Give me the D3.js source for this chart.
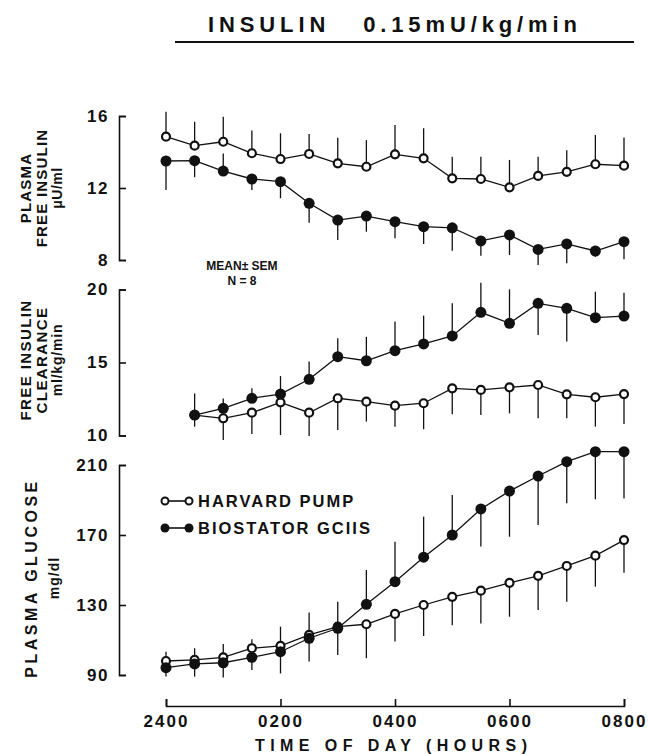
<!DOCTYPE html>
<html>
<head>
<meta charset="utf-8">
<script src="https://cdn.jsdelivr.net/npm/d3@7"></script>
<style>
  html, body { margin: 0; padding: 0; background: #fff; }
  svg text { font-family: "Liberation Sans", Arial, sans-serif; font-weight: bold; fill: #111; }
  .axis path, .axis line { stroke: #111; stroke-width: 1.6; }
</style>
</head>
<body>
<svg id="chart" width="648" height="754"></svg>
<script>
/* valori */
const hours      = [0, 0.5, 1, 1.5, 2, 2.5, 3, 3.5, 4, 4.5, 5, 5.5, 6, 6.5, 7, 7.5, 8];
const hoursClear = hours.slice(1);
const hourTicks  = [0, 2, 4, 6, 8];
const hourLabels = ["2400", "0200", "0400", "0600", "0800"];

const insulinTicks   = [8, 12, 16];
const clearanceTicks = [10, 15, 20];
const glucoseTicks   = [90, 130, 170, 210];

// plasma free insulin (µU/ml)
const insulinPump      = [14.85, 14.35, 14.57, 13.93, 13.61, 13.89, 13.37, 13.18, 13.87, 13.65, 12.54, 12.50, 12.04, 12.67, 12.90, 13.32, 13.24];
const insulinPumpSem   = [1.39, 1.33, 1.39, 1.26, 1.43, 1.11, 1.42, 1.48, 1.63, 1.67, 1.20, 1.24, 1.52, 1.07, 1.20, 1.63, 1.56];
const insulinPumpDir   = [1, 1, 1, 1, 1, 1, 1, 1, 1, 1, 1, 1, 1, 1, 1, 1, 1];
const insulinBio       = [13.50, 13.52, 12.94, 12.50, 12.35, 11.15, 10.22, 10.44, 10.13, 9.85, 9.79, 9.06, 9.39, 8.59, 8.89, 8.50, 9.02];
const insulinBioSem    = [1.61, 0.92, 0.98, 0.61, 0.92, 1.08, 1.11, 0.87, 0.92, 0.96, 1.28, 0.83, 1.11, 0.87, 1.07, 0.32, 0.98];
const insulinBioDir    = [-1, -1, 1, -1, -1, -1, -1, -1, -1, -1, -1, -1, -1, -1, -1, -1, -1];

// free insulin clearance (ml/kg/min)
const clearancePump    = [11.40, 11.18, 11.56, 12.27, 11.56, 12.55, 12.32, 12.04, 12.21, 13.23, 13.12, 13.30, 13.46, 12.82, 12.62, 12.84];
const clearancePumpSem = [0.80, 1.48, 1.46, 2.24, 1.60, 2.17, 1.37, 1.44, 1.78, 1.78, 1.71, 1.78, 2.28, 1.64, 2.01, 2.05];
const clearancePumpDir = [-1, -1, -1, -1, -1, -1, -1, -1, -1, -1, -1, -1, -1, -1, -1, -1];
const clearanceBio     = [11.40, 11.86, 12.55, 12.84, 13.85, 15.40, 15.12, 15.81, 16.27, 16.82, 18.44, 17.68, 19.05, 18.71, 18.07, 18.18];
const clearanceBioSem  = [1.48, 0.68, 0.68, 1.23, 1.21, 1.26, 1.64, 1.99, 1.94, 2.24, 2.03, 2.33, 2.17, 2.28, 1.78, 1.60];
const clearanceBioDir  = [1, 1, 1, 1, 1, 1, 1, 1, 1, 1, 1, 1, -1, -1, 1, 1];

// plasma glucose (mg/dl)
const glucosePump      = [98.0, 98.6, 100.1, 105.3, 106.7, 112.9, 117.6, 119.0, 124.9, 130.0, 134.7, 138.2, 142.7, 146.7, 152.3, 158.2, 167.1];
const glucosePumpSem   = [5.3, 6.7, 7.6, 5.1, 10.9, 12.8, 14.3, 19.4, 15.8, 17.7, 16.2, 18.7, 19.4, 19.6, 20.4, 17.7, 18.7];
const glucosePumpDir   = [1, 1, 1, 1, 1, 1, 1, -1, -1, -1, -1, -1, -1, -1, -1, -1, -1];
const glucoseBio       = [94.2, 96.3, 97.0, 100.1, 103.3, 111.0, 116.7, 130.4, 143.3, 157.3, 170.0, 184.9, 195.1, 203.7, 211.9, 217.6, 217.6];
const glucoseBioSem    = [5.1, 7.2, 8.4, 7.2, 12.4, 13.3, 15.2, 19.6, 22.9, 23.2, 22.9, 21.5, 26.1, 28.0, 23.8, 27.2, 26.7];
const glucoseBioDir    = [-1, -1, -1, -1, -1, -1, -1, 1, 1, 1, 1, -1, -1, -1, -1, -1, -1];

const seriesNames = ["HARVARD PUMP", "BIOSTATOR GCIIS"];

/* ── LAYOUT ─────────────────────────────── */

const svg    = d3.select("#chart");
const AXIS_X = 119;
const x = d3.scaleLinear().domain([0, 8]).range([166, 624]);

const panels = [
  { ticks: insulinTicks, domain: [8, 16], range: [260, 116], titleY: 188,
    title: ["PLASMA", "FREE INSULIN", "\u03BCU/ml"], cols: [25, 41, 56], spacing: [1.2, 1.2, 0.5], size: [15, 15, 14],
    pump: [hours, insulinPump, insulinPumpSem, insulinPumpDir],
    bio:  [hours, insulinBio, insulinBioSem, insulinBioDir] },
  { ticks: clearanceTicks, domain: [10, 20], range: [435.5, 289.5], titleY: 360,
    title: ["FREE INSULIN", "CLEARANCE", "ml/kg/min"], cols: [25, 41, 56], spacing: [1.4, 1.4, 0.8], size: [15, 15, 14],
    pump: [hoursClear, clearancePump, clearancePumpSem, clearancePumpDir],
    bio:  [hoursClear, clearanceBio, clearanceBioSem, clearanceBioDir] },
  { ticks: glucoseTicks, domain: [90, 210], range: [675, 465], titleY: 578,
    title: ["PLASMA GLUCOSE", "mg/dl"], cols: [31, 53], spacing: [3.5, 1], size: [16, 14],
    pump: [hours, glucosePump, glucosePumpSem, glucosePumpDir],
    bio:  [hours, glucoseBio, glucoseBioSem, glucoseBioDir] }
];

function disegnaSerie(g, y, cols) {
  const [hx, vals, sem, dir] = cols;
  const pts = vals.map((v, i) => ({ h: hx[i], v: v, s: sem[i], d: dir[i] }));

  g.append("path")
    .datum(pts)
    .attr("fill", "none")
    .attr("stroke", "#111")
    .attr("stroke-width", 1.3)
    .attr("d", d3.line().x(d => x(d.h)).y(d => y(d.v)));

  // barre SEM (una sola direzione, come nella figura)
  g.selectAll(null).data(pts).enter().append("line")
    .attr("x1", d => x(d.h)).attr("x2", d => x(d.h))
    .attr("y1", d => y(d.v))
    .attr("y2", d => y(d.v + d.d * d.s))
    .attr("stroke", "#111")
    .attr("stroke-width", 1.3);

  return pts;
}

function disegnaPunti(g, y, pts, filled) {
  g.selectAll(null).data(pts).enter().append("circle")
    .attr("cx", d => x(d.h))
    .attr("cy", d => y(d.v))
    .attr("r", filled ? 5.5 : 4)
    .attr("fill", filled ? "#111" : "#fff")
    .attr("stroke", "#111")
    .attr("stroke-width", filled ? 0 : 2.2);
}

panels.forEach(p => {
  const y = d3.scaleLinear().domain(p.domain).range(p.range);

  svg.append("g")
    .attr("class", "axis")
    .attr("transform", `translate(${AXIS_X},0)`)
    .call(d3.axisLeft(y).tickValues(p.ticks).tickSizeInner(-7).tickSizeOuter(-7).tickPadding(10))
    .call(g => g.selectAll("text").style("font-size", "17px").attr("letter-spacing", "1.5"));

  const g = svg.append("g");
  const ptsPump = disegnaSerie(g, y, p.pump);
  const ptsBio  = disegnaSerie(g, y, p.bio);
  disegnaPunti(g, y, ptsPump, false);
  disegnaPunti(g, y, ptsBio, true);

  p.title.forEach((t, i) => {
    svg.append("text")
      .attr("transform", `translate(${p.cols[i] + 6},${p.titleY}) rotate(-90)`)
      .attr("text-anchor", "middle")
      .attr("letter-spacing", p.spacing[i])
      .style("font-size", p.size[i] + "px")
      .text(t);
  });
});

/* ── ASSE X ─────────────────────────────── */

svg.append("g")
  .attr("class", "axis")
  .attr("transform", "translate(0,706)")
  .call(d3.axisBottom(x).tickValues(hourTicks).tickFormat((d, i) => hourLabels[i])
    .tickSizeInner(-7).tickSizeOuter(-7).tickPadding(9))
  .call(g => g.selectAll("text").style("font-size", "17px").attr("letter-spacing", "2"));

svg.append("text")
  .attr("x", 255).attr("y", 751)
  .attr("textLength", 272)
  .attr("lengthAdjust", "spacing")
  .style("font-size", "16px")
  .text("TIME OF DAY (HOURS)");

/* ── TITOLO ─────────────────────────────── */

svg.append("text")
  .attr("x", 208).attr("y", 32)
  .attr("textLength", 369)
  .attr("lengthAdjust", "spacing")
  .style("font-size", "22px")
  .style("white-space", "pre")
  .text("INSULIN   0.15mU/kg/min");

svg.append("line")
  .attr("x1", 175).attr("x2", 634)
  .attr("y1", 42).attr("y2", 42)
  .attr("stroke", "#111").attr("stroke-width", 2.2);

/* ── NOTE E LEGENDA ─────────────────────── */

svg.append("text").attr("x", 242).attr("y", 270)
  .attr("text-anchor", "middle").style("font-size", "12px")
  .text("MEAN\u00B1 SEM");
svg.append("text").attr("x", 242).attr("y", 285)
  .attr("text-anchor", "middle").style("font-size", "12px")
  .text("N = 8");

const legend = svg.append("g");
seriesNames.forEach((name, i) => {
  const ly = 501 + i * 27;
  const filled = i === 1;
  legend.append("line")
    .attr("x1", 165).attr("x2", 189).attr("y1", ly).attr("y2", ly)
    .attr("stroke", "#111").attr("stroke-width", 1.6);
  [165, 189].forEach(cx => {
    legend.append("circle")
      .attr("cx", cx).attr("cy", ly)
      .attr("r", filled ? 4.5 : 3.5)
      .attr("fill", filled ? "#111" : "#fff")
      .attr("stroke", "#111").attr("stroke-width", filled ? 0 : 2);
  });
  legend.append("text")
    .attr("x", 198).attr("y", ly + 6)
    .style("font-size", "16.5px")
    .attr("letter-spacing", "2")
    .text(name);
});
</script>
</body>
</html>
